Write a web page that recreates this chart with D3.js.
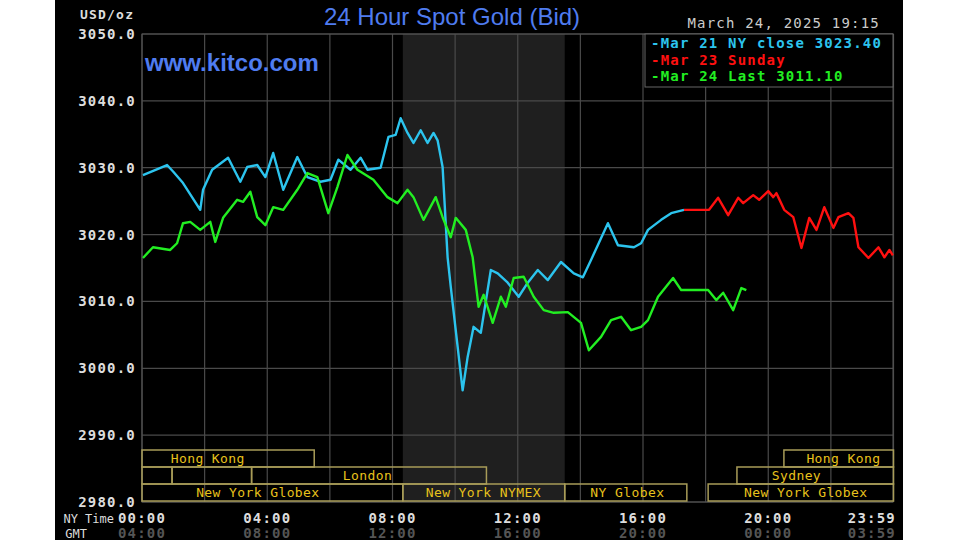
<!DOCTYPE html>
<html><head><meta charset="utf-8">
<script src="https://cdn.jsdelivr.net/npm/d3@7"></script>
<style>body{margin:0;background:#fff}svg{display:block}</style>
</head><body><svg id="c" width="960" height="540"></svg>
<script>
// hours since 00:00 NY time, price USD/oz
const mar21Hours=[0.03,0.8,1.0,1.31,1.86,1.95,2.24,2.75,3.14,3.36,3.68,3.94,4.19,4.51,4.96,5.28,5.7,6.02,6.27,6.66,6.98,7.2,7.62,7.87,8.1,8.26,8.48,8.67,8.9,9.12,9.31,9.44,9.6,9.76,9.86,10.24,10.4,10.59,10.82,11.14,11.36,11.68,12.03,12.32,12.64,12.96,13.38,13.79,14.08,14.34,14.88,15.2,15.71,15.94,16.16,16.58,16.9,17.31];
const mar21Values=[3028.9,3030.4,3029.4,3027.7,3023.7,3026.7,3029.7,3031.5,3027.9,3030.1,3030.4,3028.6,3032.2,3026.7,3031.6,3028.6,3027.9,3028.2,3031.2,3029.7,3031.5,3029.7,3030.0,3034.6,3034.9,3037.4,3035.2,3033.7,3035.6,3033.7,3035.2,3034.1,3030.1,3016.6,3012.2,2996.7,3001.7,3006.2,3005.3,3014.7,3014.2,3012.8,3010.7,3012.8,3014.7,3013.2,3015.9,3014.2,3013.6,3016.2,3021.7,3018.4,3018.1,3018.7,3020.7,3022.2,3023.2,3023.7];
const mar23Hours=[17.31,18.11,18.4,18.72,19.04,19.2,19.52,19.71,20.0,20.16,20.26,20.51,20.8,21.06,21.31,21.54,21.79,22.08,22.24,22.56,22.72,22.88,23.2,23.52,23.71,23.87,23.98];
const mar23Values=[3023.7,3023.7,3025.5,3022.9,3025.5,3024.7,3025.9,3025.2,3026.5,3025.6,3026.2,3023.7,3022.6,3018.0,3022.5,3020.7,3024.1,3021.0,3022.6,3023.2,3022.5,3018.1,3016.5,3018.1,3016.6,3017.7,3016.9];
const mar24Hours=[0.03,0.35,0.9,1.12,1.31,1.54,1.86,2.18,2.34,2.59,3.04,3.23,3.46,3.68,3.94,4.19,4.51,4.96,5.28,5.6,5.95,6.24,6.56,6.88,7.39,7.84,8.16,8.48,8.67,8.99,9.38,9.6,9.86,10.02,10.34,10.56,10.75,10.91,11.2,11.46,11.62,11.87,12.19,12.51,12.83,13.15,13.6,14.02,14.27,14.66,14.98,15.3,15.62,15.94,16.16,16.48,16.96,17.22,18.08,18.34,18.56,18.88,19.14,19.3];
const mar24Values=[3016.5,3018.1,3017.7,3018.7,3021.7,3021.9,3020.7,3021.9,3018.9,3022.5,3025.2,3024.9,3026.4,3022.6,3021.4,3024.1,3023.7,3026.7,3029.2,3028.6,3023.2,3027.1,3031.9,3029.7,3028.2,3025.6,3024.7,3026.7,3025.6,3022.2,3025.6,3022.6,3019.6,3022.5,3020.7,3016.6,3009.2,3011.0,3006.8,3010.7,3009.2,3013.5,3013.7,3010.7,3008.7,3008.3,3008.4,3006.8,3002.7,3004.7,3007.2,3007.7,3005.7,3006.2,3007.2,3010.7,3013.5,3011.7,3011.7,3010.2,3011.3,3008.7,3012.0,3011.7];
const yTicks=[2980,2990,3000,3010,3020,3030,3040,3050];
const xTickHours=[0,4,8,12,16,20,23.983];
const nyLabels=["00:00","04:00","08:00","12:00","16:00","20:00","23:59"];
const gmtLabels=["04:00","08:00","12:00","16:00","20:00","00:00","03:59"];
const legendLabels=["Mar 21 NY close 3023.40","Mar 23 Sunday","Mar 24 Last 3011.10"];
// sessions: row, start hour, end hour, label, label center hour
const sessRow=[0,0,1,1,1,1,2,2,2,2];
const sessStart=[0,20.5,0,0.96,3.5,19.0,0,8.33,13.5,18.08];
const sessEnd=[5.5,24,0.96,3.5,11.0,24,8.33,13.5,17.4,24];
const sessLabel=["Hong Kong","Hong Kong","","","London","Sydney","New York Globex","New York NYMEX","NY Globex","New York Globex"];
const sessLabelAt=[2.1,22.4,null,null,7.2,20.9,3.7,10.9,15.5,21.2];
const shadeStart=8.33, shadeEnd=13.5;

const svg=d3.select("#c");
svg.append("rect").attr("x",55).attr("y",0).attr("width",848).attr("height",540).attr("fill","#000");
const L=142,R=893,T=34,B=502;
const x=d3.scaleLinear().domain([0,24]).range([L,R+0.5]);
const y=d3.scaleLinear().domain([2980,3050]).range([B,T]);
const mono="'DejaVu Sans Mono','Liberation Mono',monospace";
svg.append("rect").attr("x",x(shadeStart)).attr("y",T).attr("width",x(shadeEnd)-x(shadeStart)).attr("height",B-T).attr("fill","#1f1f1f");
const grid=svg.append("g").attr("stroke","#4a4a4a").attr("stroke-width",1.2);
d3.range(0,25,2).forEach(h=>grid.append("line").attr("x1",x(h)).attr("x2",x(h)).attr("y1",T).attr("y2",B));
yTicks.forEach(v=>grid.append("line").attr("x1",L).attr("x2",R).attr("y1",y(v)).attr("y2",y(v)));
svg.append("rect").attr("x",L).attr("y",T).attr("width",R-L).attr("height",B-T).attr("fill","none").attr("stroke","#555");
// sessions
const rowTop=[450,467,484], rowH=17;
sessRow.forEach((r,i)=>{
  svg.append("rect").attr("x",x(sessStart[i])).attr("y",rowTop[r]).attr("width",x(sessEnd[i])-x(sessStart[i])).attr("height",rowH)
    .attr("fill","none").attr("stroke","#a89c58").attr("stroke-width",1.5);
  if(sessLabel[i]) svg.append("text").attr("x",x(sessLabelAt[i])).attr("y",rowTop[r]+13).attr("text-anchor","middle")
    .attr("fill","#e8c21c").attr("font-family",mono).attr("font-size",13).attr("letter-spacing",0.4).text(sessLabel[i]);
});
// lines
const line=d3.line().x(d=>x(d[0])).y(d=>y(d[1]));
const series=[[mar21Hours,mar21Values,"#2cc4ee"],[mar23Hours,mar23Values,"#ff1010"],[mar24Hours,mar24Values,"#22ee22"]];
series.forEach(([h,v,c])=>svg.append("path").datum(h.map((d,i)=>[d,v[i]])).attr("d",line).attr("fill","none").attr("stroke",c).attr("stroke-width",2.4).attr("stroke-linejoin","round"));
const wide=(s,sz,bold)=>s.attr("font-family",mono).attr("font-size",sz).attr("letter-spacing",1.2).attr("font-weight",bold?"bold":"normal");
// y axis labels
yTicks.forEach(v=>wide(svg.append("text").attr("x",136).attr("y",y(v)+5).attr("text-anchor","end").attr("fill","#ddd"),14,true).text(d3.format(".1f")(v)));
wide(svg.append("text").attr("x",80).attr("y",19).attr("fill","#ddd"),13,true).text("USD/oz");
// x labels
xTickHours.forEach((h,i)=>{
  const last=i===xTickHours.length-1;
  wide(svg.append("text").attr("x",last?896:x(h)).attr("y",523).attr("text-anchor",last?"end":"middle").attr("fill","#ddd"),14,true).text(nyLabels[i]);
  wide(svg.append("text").attr("x",last?896:x(h)).attr("y",538).attr("text-anchor",last?"end":"middle").attr("fill","#555"),14,true).text(gmtLabels[i]);
});
svg.append("text").attr("x",114).attr("y",523).attr("text-anchor","end").attr("fill","#ddd").attr("font-family",mono).attr("font-size",12).text("NY Time");
svg.append("text").attr("x",87).attr("y",538).attr("text-anchor","end").attr("fill","#ddd").attr("font-family",mono).attr("font-size",12).text("GMT");
// titles
svg.append("text").attr("x",452).attr("y",25).attr("text-anchor","middle").attr("fill","#4f7cf0").attr("font-family","'Liberation Sans',Arial,sans-serif").attr("font-size",24).attr("font-weight","500").text("24 Hour Spot Gold (Bid)");
svg.append("text").attr("x",145).attr("y",71).attr("fill","#4f7cf0").attr("font-family","'Liberation Sans',Arial,sans-serif").attr("font-weight","bold").attr("font-size",24).text("www.kitco.com");
wide(svg.append("text").attr("x",880).attr("y",28).attr("text-anchor","end").attr("fill","#ccc"),14,false).text("March 24, 2025 19:15");
// legend
svg.append("rect").attr("x",645).attr("y",34).attr("width",248).attr("height",53).attr("fill","#000").attr("stroke","#666");
legendLabels.forEach((t,i)=>wide(svg.append("text").attr("x",651).attr("y",48+i*16.5).attr("fill",series[i][2]),14,true).text("-"+t));
</script></body></html>
